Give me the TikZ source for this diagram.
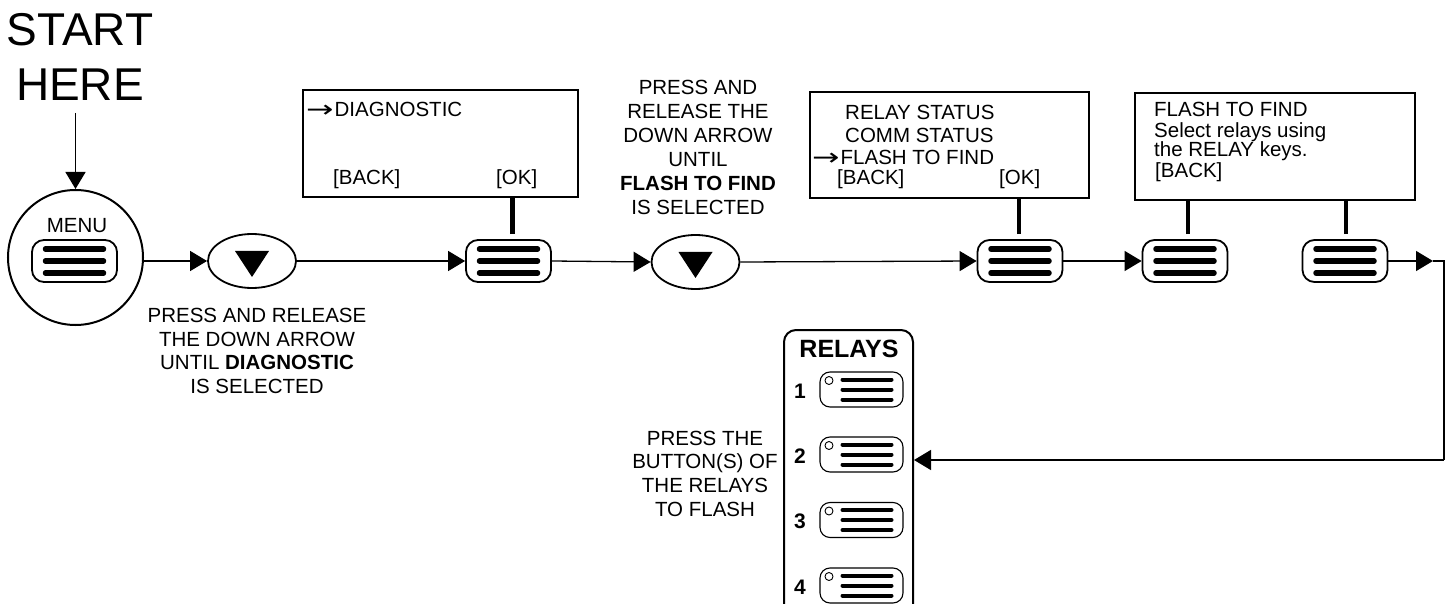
\documentclass[tikz,border=0pt]{standalone}
\usepackage{fontspec}
\setmainfont{Liberation Sans}
\newfontfamily\dvfont{DejaVu Sans}
\usetikzlibrary{arrows.meta,shapes.geometric,calc}
\newcommand\bigbars[1]{\foreach \d in {-12,0,12}{\draw[bar] ([shift={(-29,\d)}]#1.center) -- ([shift={(29,\d)}]#1.center);}}
\newcommand\smallbars[1]{\foreach \d in {-10,0,10}{\draw[sbar] ([shift={(-19,\d)}]#1.center) -- ([shift={(30,\d)}]#1.center);}
  \draw[line width=0.9pt,fill=white] ([shift={(-32.5,-9)}]#1.center) circle (4);}
\newcommand\arr{\raisebox{-0.5pt}{\scalebox{1.6}[1.15]{\dvfont →}}\kern1pt}
\begin{document}
\begin{tikzpicture}[x=1pt,y=-1pt,
  txt/.style={font=\fontsize{20.5}{23.5}\selectfont, inner sep=0pt},
  btn/.style={draw, line width=1.8pt, rounded corners=12pt, minimum width=85pt, minimum height=42pt, inner sep=0pt},
  rbtn/.style={draw, line width=1.1pt, rounded corners=10pt, minimum width=83pt, minimum height=35pt, inner sep=0pt},
  bar/.style={line width=5.5pt, line cap=round},
  sbar/.style={line width=4pt, line cap=round},
  screen/.style={draw, line width=2pt, inner sep=0pt},
  oval/.style={draw, ellipse, line width=1.8pt, minimum width=88pt, minimum height=54pt, inner sep=0pt},
  conn/.style={line width=1.3pt, -{Triangle[length=17pt,width=20pt]}},
  plain/.style={line width=1.3pt},
  stem/.style={line width=4.6pt},
  numf/.style={font=\fontsize{21}{24}\selectfont\bfseries, inner sep=0pt}]
\useasboundingbox (0,0) rectangle (1452,604);

% start
\node[inner sep=0pt, align=center, font=\fontsize{46}{55}\selectfont] (start) at (80,57) {START\\HERE};
\node[circle, draw, line width=2pt, minimum size=135pt, inner sep=0pt] (menu) at (75.5,257.5) {};
\node[txt] (menulbl) at (77,226) {MENU};
\node[btn] (mb) at (74.5,261) {};
\bigbars{mb}
\coordinate (stop) at (75.5,113);
\draw[conn] (stop) -- (menu.north);

% first down arrow
\node[oval] (e1) at (252,261) {};
\fill ([shift={(-17,-10)}]e1.center) -- ++(34,0) -- ++(-17,26) -- cycle;
\node[txt, align=center] (t1) at (257,351) {PRESS AND RELEASE\\THE DOWN ARROW\\UNTIL \textbf{DIAGNOSTIC}\\IS SELECTED};

% screen 1
\node[screen, minimum width=275pt, minimum height=107pt] (s1) at (440.5,143.5) {};
\node[txt, anchor=base west] (s1a) at (306,117) {\arr DIAGNOSTIC};
\node[txt, anchor=base west] (s1b) at (333,185) {[BACK]};
\node[txt, anchor=base west] (s1c) at (496,185) {[OK]};
\node[btn] (b2) at (508.5,261) {};
\bigbars{b2}
\draw[stem] ([xshift=4pt,yshift=5pt]b2.north) -- ([xshift=4pt]b2.north |- s1.south);

% second down arrow
\node[oval] (e2) at (695.5,262) {};
\fill ([shift={(-17,-10)}]e2.center) -- ++(34,0) -- ++(-17,26) -- cycle;
\node[txt, align=center, font=\fontsize{20.5}{24}\selectfont] (t2) at (698,147) {PRESS AND\\RELEASE THE\\DOWN ARROW\\UNTIL\\\textbf{FLASH TO FIND}\\IS SELECTED};

% screen 2
\node[screen, minimum width=279pt, minimum height=106pt] (s2) at (949.5,145) {};
\node[txt, anchor=base west] (s2a) at (845,120) {RELAY STATUS};
\node[txt, anchor=base west] (s2b) at (845,143) {COMM STATUS};
\node[txt, anchor=base west] (s2c) at (812,165) {\arr FLASH TO FIND};
\node[txt, anchor=base west] (s2d) at (837,185) {[BACK]};
\node[txt, anchor=base west] (s2e) at (999,185) {[OK]};
\node[btn] (b3) at (1020,261) {};
\bigbars{b3}
\draw[stem] ([xshift=-1pt,yshift=5pt]b3.north) -- ([xshift=-1pt]b3.north |- s2.south);

% screen 3
\node[screen, minimum width=280pt, minimum height=107pt] (s3) at (1275,146.5) {};
\node[txt, anchor=base west] (s3a) at (1154,117) {FLASH TO FIND};
\node[txt, anchor=base west] (s3b) at (1154,138) {Select relays using};
\node[txt, anchor=base west] (s3c) at (1154,157) {the RELAY keys.};
\node[txt, anchor=base west] (s3d) at (1155,178) {[BACK]};
\node[btn] (b4) at (1185,261) {};
\bigbars{b4}
\draw[stem] ([xshift=3pt,yshift=5pt]b4.north) -- ([xshift=3pt]b4.north |- s3.south);
\node[btn] (b5) at (1345,261) {};
\bigbars{b5}
\draw[stem] ([xshift=1pt,yshift=5pt]b5.north) -- ([xshift=1pt]b5.north |- s3.south);

% connectors
\draw[conn] (menu.east |- mb) -- (e1.west);
\draw[conn] (e1.east) -- (b2.west);
\draw[conn] (b2.east) -- (e2.west);
\draw[conn] (e2.east) -- (b3.west);
\draw[conn] (b3.east) -- (b4.west);
\coordinate (c1) at (1433,261);
\coordinate (c2) at (1444,261);
\coordinate (c3) at (1444,460);
\coordinate (p2) at (914,460);
\draw[conn] (b5.east) -- (c1);
\draw[plain] (c1) -- (c2) -- (c3);
\draw[conn] (c3) -- (p2);

% relay panel
\draw[line width=2pt, rounded corners=12pt] (784,615) -- (784,330) -- (913,330) -- (913,615);
\node[inner sep=0pt, font=\fontsize{25}{30}\selectfont\bfseries] (relays) at (849,349) {RELAYS};
\node[rbtn] (r1) at (861.5,389.5) {};
\node[rbtn] (r2) at (861.5,454.5) {};
\node[rbtn] (r3) at (861.5,520) {};
\node[rbtn] (r4) at (861.5,585.5) {};
\smallbars{r1}\smallbars{r2}\smallbars{r3}\smallbars{r4}
\node[numf] (n1) at (800,391) {1};
\node[numf] (n2) at (800,456) {2};
\node[numf] (n3) at (800,521) {3};
\node[numf] (n4) at (800,587) {4};
\node[txt, align=center, font=\fontsize{20.5}{23.7}\selectfont] (t3) at (705,473.5) {PRESS THE\\BUTTON(S) OF\\THE RELAYS\\TO FLASH};
\end{tikzpicture}
\end{document}
